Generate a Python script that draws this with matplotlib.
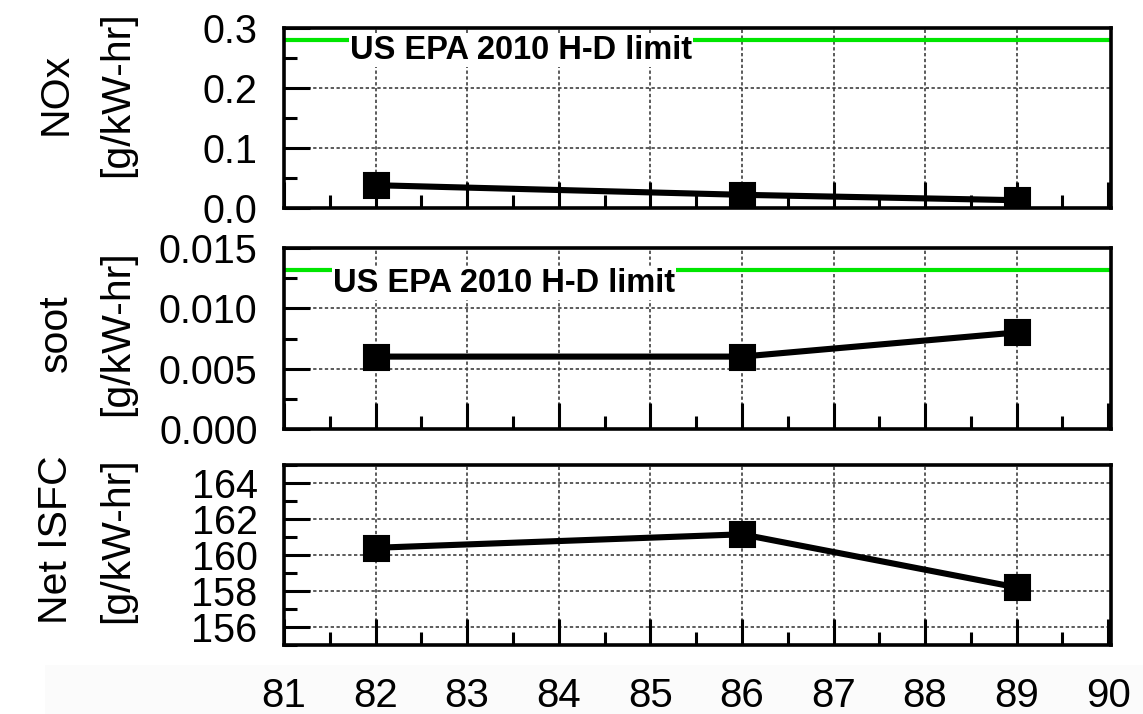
import matplotlib
matplotlib.use("Agg")
import matplotlib.pyplot as plt
from matplotlib.patches import Rectangle
from matplotlib.ticker import MultipleLocator

plt.rcParams['font.family'] = ['Liberation Sans', 'DejaVu Sans']

# ---- data ----
x_vals = [82, 86, 89]
nox = [0.038, 0.022, 0.013]
soot = [0.006, 0.006, 0.008]
isfc = [160.4, 161.15, 158.2]
nox_limit = 0.28
soot_limit = 0.0132
limit_text = "US EPA 2010 H-D limit"
ylabel_top = ["NOx", "soot", "Net ISFC"]
ylabel_unit = "[g/kW-hr]"
x_ticks = [81, 82, 83, 84, 85, 86, 87, 88, 89, 90]
x_ticklabels = [str(v) for v in x_ticks]
y_ticks_nox = [0.0, 0.1, 0.2, 0.3]
y_ticklabels_nox = ["0.0", "0.1", "0.2", "0.3"]
y_ticks_soot = [0.000, 0.005, 0.010, 0.015]
y_ticklabels_soot = ["0.000", "0.005", "0.010", "0.015"]
y_ticks_isfc = [156, 158, 160, 162, 164]
y_ticklabels_isfc = ["156", "158", "160", "162", "164"]

W, H = 1143, 714
fig = plt.figure(figsize=(W / 100, H / 100), dpi=100)

# very light band behind x tick labels
fig.patches.append(Rectangle((45 / W, 0), 1 - 45 / W, 49 / H, transform=fig.transFigure,
                             facecolor='#fbfbfb', edgecolor='none', zorder=-5))

left = 284 / W
width = (1111 - 284) / W
panels = [(28, 208), (248, 429), (465, 645)]
axes = []
for top, bot in panels:
    ax = fig.add_axes([left, 1 - bot / H, width, (bot - top) / H])
    axes.append(ax)

specs = [
    (nox, (0, 0.3), y_ticks_nox, y_ticklabels_nox, 0.05),
    (soot, (0, 0.015), y_ticks_soot, y_ticklabels_soot, 0.0025),
    (isfc, (155, 165), y_ticks_isfc, y_ticklabels_isfc, 1),
]

grid_kw = dict(color='#404040', linewidth=1.2, linestyle=(0, (2.0, 1.5)), zorder=1)

for i, (ax, (vals, ylim, yt, ytl, ymin)) in enumerate(zip(axes, specs)):
    ax.set_xlim(81, 90.03)
    ax.set_ylim(*ylim)
    ax.set_xticks(x_ticks)
    ax.xaxis.set_minor_locator(MultipleLocator(0.5))
    ax.set_yticks(yt)
    ax.yaxis.set_minor_locator(MultipleLocator(ymin))
    ax.set_yticklabels(ytl)
    if i == 2:
        ax.set_xticklabels(x_ticklabels)
    else:
        ax.set_xticklabels([])
    ax.tick_params(axis='both', which='major', direction='in', length=18.5, width=2.2,
                   top=False, right=False, color='black')
    ax.tick_params(axis='both', which='minor', direction='in', length=9.5, width=2.2,
                   top=False, right=False, color='black')
    ax.tick_params(axis='x', which='major', pad=23, labelsize=29)
    ax.tick_params(axis='y', which='major', pad=19, labelsize=28.5)
    for s in ax.spines.values():
        s.set_linewidth(2.6)
        s.set_zorder(6)
    # grid (interior lines only)
    for xv in x_ticks[1:-1]:
        ax.axvline(xv, **grid_kw)
    for yv in yt:
        if ylim[0] < yv < ylim[1]:
            ax.axhline(yv, **grid_kw)
    ax.plot(x_vals, vals, color='black', linewidth=4.4, marker='s', markersize=18,
            markeredgewidth=1.5, markerfacecolor='black', markeredgecolor='black', zorder=5)

# limit lines with labels
axes[0].axhline(nox_limit, color='#00e600', linewidth=3, zorder=2)
axes[0].text(81.72, 0.2483, limit_text, fontsize=23.5, fontweight='bold', ha='left',
             va='baseline', zorder=3,
             bbox=dict(facecolor='white', edgecolor='none', pad=0.8))
axes[1].axhline(soot_limit, color='#00e600', linewidth=3, zorder=2)
axes[1].text(81.535, 0.01138, limit_text, fontsize=23.5, fontweight='bold', ha='left',
             va='baseline', zorder=3,
             bbox=dict(facecolor='white', edgecolor='none', pad=0.8))

# y labels (two separate rotated lines)
label_y = [94, 333, 540]
for name, yc in zip(ylabel_top, label_y):
    fig.text(56 / W, 1 - yc / H, name, rotation=90, ha='center', va='center', fontsize=29.5)
    fig.text(117 / W, 1 - yc / H, ylabel_unit, rotation=90, ha='center', va='center',
             fontsize=29.5)

fig.savefig("out.png", dpi=100, facecolor='white')
